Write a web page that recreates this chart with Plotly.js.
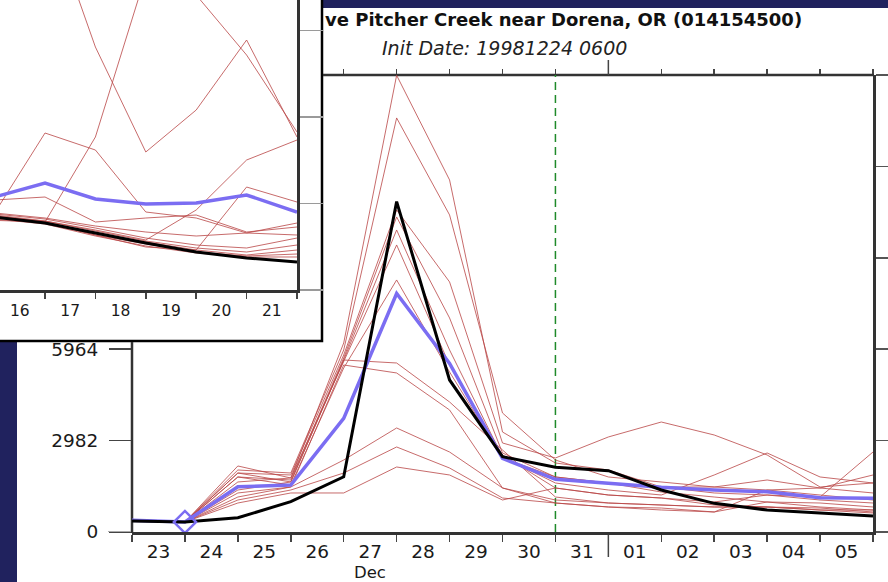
<!DOCTYPE html>
<html><head><meta charset="utf-8">
<script src="https://cdn.plot.ly/plotly-3.0.1.min.js"></script>
<style>html,body{margin:0;padding:0;background:#20225e;overflow:hidden}</style>
</head><body><div id="chart" style="width:888px;height:582px;"></div>
<script>
// ---------- main chart data (flow, cfs) ----------
const dayIndex = [0,1,2,3,4,5,6,7,8,9,10,11,12,13,14];
const dayLabels = ['23','24','25','26','27','28','29','30','31','01','02','03','04','05'];
const yTickVals = [0, 2982, 5964, 8946, 11928, 14910];
const yLabelVals = [0, 2982, 5964];
const observed = [360, 330, 466, 990, 1800, 10780, 4960, 2456, 2110, 2000, 1370, 935, 717, 609, 522];
const ensMean  = [380, 326, 1478, 1532, 3706, 7783, 5500, 2402, 1718, 1587, 1457, 1369, 1314, 1118, 1098];
const initIndex = 1;
const forecastEndIndex = 8;
const monthBoundaryIndex = 9;
const member01 = [null, 326, 2154, 1762, 6167, 14900, 11486, 3263, 2251, 2023, 1468, 1273, 1207, 1044, 946];
const member02 = [null, 326, 2023, 1925, 5939, 13509, 10344, 3883, 2349, 1795, 1632, 1468, 1370, 1436, 1273];
const member03 = [null, 326, 1925, 1860, 5776, 10507, 8158, 2904, 2415, 3100, 3589, 3165, 2513, 1468, 1599];
const member04 = [null, 326, 1795, 1697, 5678, 10278, 6983, 2578, 1795, 1599, 1305, 1142, 979, 816, 718];
const member05 = [null, 326, 1925, 1632, 5612, 9854, 5939, 2447, 1599, 1370, 1207, 1860, 2578, 1795, 1599];
const member06 = [null, 326, 1632, 1762, 5547, 9365, 5449, 2513, 1436, 1207, 1109, 979, 1207, 1142, 2610];
const member07 = [null, 326, 1795, 1534, 5351, 8223, 5221, 2415, 1795, 1599, 1468, 1468, 1697, 1436, 1860];
const member08 = [null, 326, 1370, 1632, 5612, 5514, 4242, 2676, 1142, 946, 881, 816, 816, 718, 620];
const member09 = [null, 326, 1273, 1468, 5449, 5188, 3981, 1436, 946, 816, 783, 653, 979, 946, 816];
const member10 = [null, 326, 1142, 1468, 2349, 3394, 2610, 1436, 1044, 946, 881, 816, 816, 718, 718];
const member11 = [null, 326, 1044, 1370, 1925, 2774, 2088, 1109, 946, 816, 718, 653, 1370, 1207, 1044];
const member12 = [null, 326, 946, 1273, 1273, 2121, 1860, 1044, 1436, 1207, 1109, 881, 816, 783, 653];
const members = [member01, member02, member03, member04, member05, member06, member07, member08, member09, member10, member11, member12];

// ---------- inset chart data ----------
const insetIndex = [0,1,2,3,4,5,6];
const insetLabels = ['16','17','18','19','20','21'];
const insetYTicks = [0, 2982, 5964, 8946];
const insetObserved = [2516, 2309, 1965, 1620, 1310, 1103, 965];
const insetMean = [3206, 3688, 3137, 2964, 2999, 3275, 2689];
const inset01 = [9996, 13305, 8376, 4757, 6205, 8618, 5274];
const inset02 = [2400, 2344, 5274, 10858, 10169, 8100, 5446];
const inset03 = [2654, 5412, 4826, 2689, 2482, 1965, 2309];
const inset04 = [3102, 3206, 2344, 2482, 2585, 1999, 2172];
const inset05 = [2516, 2378, 2068, 1724, 2758, 4481, 5171];
const inset06 = [2551, 2344, 1896, 1482, 1379, 3550, 3033];
const inset07 = [2620, 2447, 2137, 1792, 1551, 1448, 1792];
const inset08 = [2585, 2378, 2034, 1689, 1448, 1310, 1551];
const inset09 = [2551, 2344, 1965, 1655, 1379, 1206, 1379];
const inset10 = [2482, 2309, 1896, 1586, 1310, 1172, 1241];
const inset11 = [2447, 2275, 1861, 1517, 1275, 1138, 1138];
const inset12 = [2654, 2482, 2206, 1999, 1861, 1965, 1896];
const insetMembers = [inset01, inset02, inset03, inset04, inset05, inset06, inset07, inset08, inset09, inset10, inset11, inset12];

const titleText = 've Pitcher Creek near Dorena, OR (014154500)';
const subtitleText = 'Init Date: 19981224 0600';
const monthText = 'Dec';

// ---------- layout helpers ----------
const W = 888, H = 582;
const PX = p => p / W;
const PY = p => (H - p) / H;
const FONT = 'DejaVu Sans';
const RED = 'rgba(185,70,70,0.8)';
const BLUE = '#7b6df2';
const AX = '#333333';

const traces = [];
members.forEach((m, k) => traces.push({
  x: dayIndex, y: m, xaxis: 'x', yaxis: 'y', type: 'scatter', mode: 'lines',
  line: {color: RED, width: 1}, hoverinfo: 'skip', showlegend: false, name: 'member ' + (k + 1)
}));
traces.push({x: dayIndex, y: ensMean, xaxis: 'x', yaxis: 'y', mode: 'lines',
  line: {color: BLUE, width: 3.5}, showlegend: false, name: 'mean'});
traces.push({x: dayIndex, y: observed, xaxis: 'x', yaxis: 'y', mode: 'lines',
  line: {color: '#000000', width: 3}, showlegend: false, name: 'simulated'});
traces.push({x: [dayIndex[initIndex]], y: [ensMean[initIndex]], xaxis: 'x', yaxis: 'y', mode: 'markers',
  marker: {symbol: 'diamond-open', size: 17, color: BLUE, line: {width: 2.5, color: BLUE}}, showlegend: false});

insetMembers.forEach((m, k) => traces.push({
  x: insetIndex, y: m, xaxis: 'x2', yaxis: 'y3', mode: 'lines',
  line: {color: RED, width: 1}, showlegend: false, name: 'inset member ' + (k + 1)
}));
traces.push({x: insetIndex, y: insetMean, xaxis: 'x2', yaxis: 'y3', mode: 'lines',
  line: {color: BLUE, width: 3.5}, showlegend: false});
traces.push({x: insetIndex, y: insetObserved, xaxis: 'x2', yaxis: 'y3', mode: 'lines',
  line: {color: '#000000', width: 3}, showlegend: false});

// empty carrier traces so the overlaying axes (labels, mirrored ticks) get drawn
[['x3', 'y'], ['x4', 'y'], ['x', 'y2'], ['x5', 'y3']].forEach(([xa, ya]) => traces.push({
  x: [null], y: [null], xaxis: xa, yaxis: ya, mode: 'lines', showlegend: false, hoverinfo: 'skip'
}));

const mainX = [PX(132), PX(873)];
const mainY = [PY(532), PY(75)];
const insetX = [0, PX(297)];
const insetY = [PY(290), 1];
const tickFont = {family: FONT, size: 18.5, color: '#1a1a1a'};

const layout = {
  width: W, height: H,
  margin: {l: 0, r: 0, t: 0, b: 0, pad: 0},
  paper_bgcolor: '#20225e', plot_bgcolor: 'rgba(0,0,0,0)',
  showlegend: false,
  xaxis: {domain: mainX, anchor: 'y', range: [0, 14], tickmode: 'array', tickvals: dayIndex,
    ticktext: dayIndex.map(() => ''), ticks: 'outside', ticklen: 7, tickwidth: 1.5, tickcolor: '#444',
    showline: true, linecolor: AX, linewidth: 2.5, showgrid: false, zeroline: false, fixedrange: true},
  xaxis3: {overlaying: 'x', anchor: 'y', side: 'bottom', range: [0, 14], tickmode: 'array',
    tickvals: dayLabels.map((_, k) => dayIndex[k] + 0.5), ticktext: dayLabels, ticks: '',
    ticklabelstandoff: 6, tickfont: tickFont,
    showline: false, showgrid: false, zeroline: false, fixedrange: true},
  xaxis4: {overlaying: 'x', anchor: 'y', side: 'top', range: [0, 14], tickmode: 'array',
    tickvals: dayIndex.slice(4), ticktext: dayIndex.slice(4).map(() => ''), ticks: 'outside', ticklen: 5, tickwidth: 1.5, tickcolor: '#444',
    showticklabels: false, showline: false, showgrid: false, zeroline: false, fixedrange: true},
  yaxis: {domain: mainY, anchor: 'x', range: [0, 14910], tickmode: 'array', tickvals: yLabelVals,
    ticktext: yLabelVals.map(String), ticks: 'outside', ticklen: 22, tickwidth: 1.5, tickcolor: '#444',
    ticklabelstandoff: 7, tickfont: tickFont,
    showline: false, showgrid: false, zeroline: false, fixedrange: true},
  yaxis2: {overlaying: 'y', anchor: 'x', side: 'right', range: [0, 14910], tickmode: 'array', tickvals: yTickVals,
    ticktext: yTickVals.map(() => ''), ticks: 'outside', ticklen: 15, tickwidth: 1.5, tickcolor: '#555', showticklabels: false,
    showline: true, linecolor: AX, linewidth: 2.5, showgrid: false, zeroline: false, fixedrange: true},
  xaxis2: {domain: insetX, anchor: 'y3', range: [0.107, 6], tickmode: 'array', tickvals: insetIndex.slice(1),
    ticks: 'outside', ticklen: 6, tickwidth: 1.5, tickcolor: '#444', showticklabels: false,
    showline: true, linecolor: AX, linewidth: 2.5, showgrid: false, zeroline: false, fixedrange: true},
  xaxis5: {overlaying: 'x2', anchor: 'y3', side: 'bottom', range: [0.107, 6], tickmode: 'array',
    tickvals: insetLabels.map((_, k) => insetIndex[k] + 0.5), ticktext: insetLabels, ticks: '',
    ticklabelstandoff: 9, tickfont: {family: FONT, size: 15.5, color: '#1a1a1a'},
    showline: false, showgrid: false, zeroline: false, fixedrange: true},
  yaxis3: {domain: insetY, anchor: 'x2', side: 'right', range: [0, 9997], tickmode: 'array',
    tickvals: insetYTicks, ticks: 'outside', ticklen: 23, tickwidth: 1.5, tickcolor: '#9a9a9a',
    showticklabels: false, showline: true, linecolor: AX, linewidth: 2.5,
    showgrid: false, zeroline: false, fixedrange: true},
  shapes: [
    {type: 'rect', xref: 'paper', yref: 'paper', x0: PX(17), x1: 1, y0: 0, y1: PY(8),
      fillcolor: '#ffffff', line: {width: 0}, layer: 'below'},
    {type: 'rect', xref: 'paper', yref: 'paper', x0: -0.01, x1: PX(322), y0: PY(341), y1: 1.01,
      fillcolor: '#ffffff', line: {color: '#000000', width: 2.5}, layer: 'below'},
    {type: 'line', xref: 'paper', yref: 'paper', x0: PX(132), x1: PX(132), y0: PY(533), y1: PY(342),
      line: {color: AX, width: 2.5}, layer: 'below'},
    {type: 'line', xref: 'paper', yref: 'paper', x0: PX(323), x1: PX(874), y0: PY(75), y1: PY(75),
      line: {color: AX, width: 2.5}, layer: 'below'},
    {type: 'line', xref: 'x', yref: 'y', x0: forecastEndIndex, x1: forecastEndIndex, y0: 0, y1: 14910,
      line: {color: '#1f8a2a', width: 1.5, dash: '8px,5px'}, layer: 'below'},
    {type: 'line', xref: 'x', yref: 'paper', x0: monthBoundaryIndex, x1: monthBoundaryIndex, y0: PY(557), y1: PY(532),
      line: {color: '#444', width: 1.5}, layer: 'below'},
    {type: 'line', xref: 'x', yref: 'paper', x0: monthBoundaryIndex, x1: monthBoundaryIndex, y0: PY(75), y1: PY(60),
      line: {color: '#444', width: 1.5}, layer: 'below'},
    {type: 'line', xref: 'paper', yref: 'y', x0: PX(108), x1: PX(131), y0: 0, y1: 0,
      line: {color: '#aaaaaa', width: 2}, layer: 'above'}
  ],
  annotations: [
    {text: '<b>' + titleText + '</b>', xref: 'paper', yref: 'paper', x: PX(323), y: PY(20),
      xanchor: 'left', yanchor: 'middle', showarrow: false, font: {family: FONT, size: 18, color: '#111'}},
    {text: '<i>' + subtitleText + '</i>', xref: 'paper', yref: 'paper', x: PX(504), y: PY(48),
      xanchor: 'center', yanchor: 'middle', showarrow: false, font: {family: FONT, size: 19, color: '#222'}},
    {text: monthText, xref: 'x', yref: 'paper', x: 4.5, y: PY(572.5),
      xanchor: 'center', yanchor: 'middle', showarrow: false, font: {family: FONT, size: 16.5, color: '#1a1a1a'}}
  ]
};

Plotly.newPlot('chart', traces, layout, {staticPlot: true, displayModeBar: false});
</script></body></html>
